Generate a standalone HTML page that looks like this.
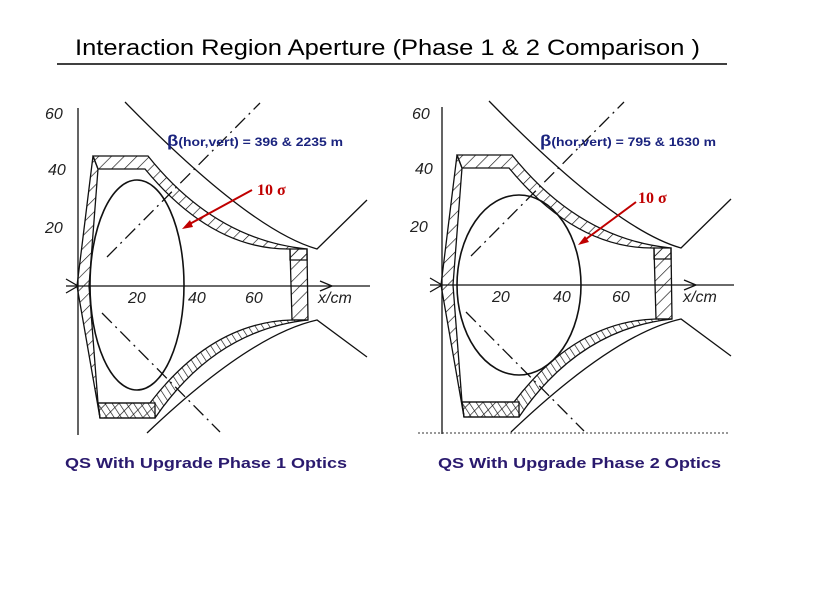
<!DOCTYPE html>
<html><head><style>
body{margin:0;background:#fff;width:840px;height:594px;overflow:hidden}
svg{display:block}
.t{font-family:"Liberation Sans",Arial,sans-serif}
.h{font-family:"Liberation Sans",sans-serif;font-style:italic;font-size:16px;fill:#222}
</style></head><body>
<svg width="840" height="594" viewBox="0 0 840 594">
<defs>
<pattern id="hat" width="9" height="9" patternUnits="userSpaceOnUse" patternTransform="rotate(45)">
<line x1="0" y1="0" x2="0" y2="9" stroke="#111" stroke-width="1.3"/></pattern>
<pattern id="box" width="6" height="6" patternUnits="userSpaceOnUse" patternTransform="rotate(-33)">
<line x1="0" y1="0" x2="0" y2="6" stroke="#111" stroke-width="1.3"/></pattern>
<g id="dia" fill="none" stroke="#111" stroke-width="1.3">
<line x1="78" y1="108" x2="78" y2="435"/>
<line x1="66" y1="286" x2="370" y2="286"/>
<path d="M66,279 L78,286 L66,293"/>
<path d="M320,281 L332,286 L320,291"/>
<path d="M107,257 L260,103" stroke-dasharray="14,5,2,5"/>
<path d="M102,313 L220,432" stroke-dasharray="14,5,2,5"/>
<path d="M125,102 Q250,230 317,249 L367,200"/>
<path d="M147,433 Q250,335 317,320 L367,357"/>
<path d="M93,156 L98,169 L89,286 L98,403 L100,418 L77,286 Z" fill="url(#hat)"/>
<path d="M93,156 L148,156 Q215,240 307,249 L307,260 L290,260 L290,249 Q212,250 145,169 L98,169 Z" fill="url(#hat)"/>
<path d="M290,249 L307,249 L308,320 L292,320 Z" fill="url(#hat)"/>
<path d="M100,418 L155,418 Q215,330 308,320 L292,320 Q212,322 150,403 L98,403 Z" fill="url(#box)"/>
<path d="M98,403 L155,403 L155,418 L100,418 Z" fill="url(#hat)"/>
</g>
</defs>

<text x="75" y="55" class="t" font-size="22" fill="#000" textLength="625" lengthAdjust="spacingAndGlyphs">Interaction Region Aperture (Phase 1 &amp; 2 Comparison )</text>
<line x1="57" y1="64" x2="727" y2="64" stroke="#000" stroke-width="1.5"/>

<use href="#dia"/>
<ellipse cx="137" cy="285" rx="47" ry="105" fill="none" stroke="#111" stroke-width="1.6"/>
<g class="h"><text x="45" y="119">60</text><text x="48" y="175">40</text><text x="45" y="233">20</text>
<text x="128" y="303">20</text><text x="188" y="303">40</text><text x="245" y="303">60</text><text x="318" y="303">x/cm</text></g>
<text x="167" y="146" class="t" font-size="12" font-weight="bold" fill="#1a237e" textLength="176" lengthAdjust="spacingAndGlyphs"><tspan font-size="16">β</tspan>(hor,vert) = 396 &amp; 2235 m</text>
<line x1="252" y1="190" x2="186" y2="226" stroke="#c00000" stroke-width="2"/>
<path d="M182,229 L190,220 L193,227 Z" fill="#c00000"/>
<text x="257" y="195" font-family="Liberation Serif,serif" font-weight="bold" font-size="16" fill="#c00000">10 σ</text>
<text x="65" y="468" class="t" font-size="15" font-weight="bold" fill="#2a1a6e" textLength="282" lengthAdjust="spacingAndGlyphs">QS With Upgrade Phase 1 Optics</text>

<g transform="translate(364,-1)"><use href="#dia"/></g>
<line x1="418" y1="433" x2="730" y2="433" stroke="#333" stroke-dasharray="2,2"/>
<ellipse cx="519" cy="285" rx="62" ry="90" fill="none" stroke="#111" stroke-width="1.6"/>
<g class="h"><text x="412" y="119">60</text><text x="415" y="174">40</text><text x="410" y="232">20</text>
<text x="492" y="302">20</text><text x="553" y="302">40</text><text x="612" y="302">60</text><text x="683" y="302">x/cm</text></g>
<text x="540" y="146" class="t" font-size="12" font-weight="bold" fill="#1a237e" textLength="176" lengthAdjust="spacingAndGlyphs"><tspan font-size="16">β</tspan>(hor,vert) = 795 &amp; 1630 m</text>
<line x1="636" y1="202" x2="582" y2="242" stroke="#c00000" stroke-width="2"/>
<path d="M578,245 L585,236 L589,242 Z" fill="#c00000"/>
<text x="638" y="203" font-family="Liberation Serif,serif" font-weight="bold" font-size="16" fill="#c00000">10 σ</text>
<text x="438" y="468" class="t" font-size="15" font-weight="bold" fill="#2a1a6e" textLength="283" lengthAdjust="spacingAndGlyphs">QS With Upgrade Phase 2 Optics</text>
</svg>
</body></html>
